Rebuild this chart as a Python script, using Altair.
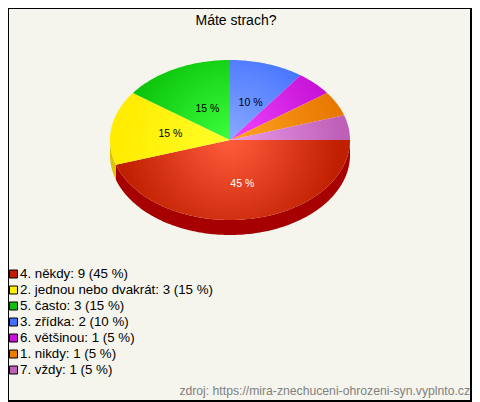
import math
import altair as alt
import pandas as pd

# ---- data
categories = ["4. někdy", "2. jednou nebo dvakrát", "5. často", "3. zřídka", "6. většinou", "1. nikdy", "7. vždy"]
counts = [9, 3, 3, 2, 1, 1, 1]
percents = [45, 15, 15, 10, 5, 5, 5]
title_text = "Máte strach?"
source_text = "zdroj: https://mira-znechuceni-ohrozeni-syn.vyplnto.cz"

# ---- style
W, H = 464, 394
BG = "#f5f5ed"
FONT = "Liberation Sans"
light = ["#ff5c3c", "#ffff2a", "#3cff3c", "#8aaaff", "#f044ff", "#ffa424", "#ea9cea"]
dark = ["#c02000", "#ffec00", "#08c008", "#3c6cff", "#c410d4", "#e87800", "#bf60b8"]
swatch = ["#c01a00", "#ffee00", "#10c010", "#4070ff", "#cc10dc", "#ec7c00", "#c060b8"]
side = ["#a60000", "#dcc400", "#08a008", "#3058d0", "#a008b0", "#c06000", "#a050a0"]
label_color = ["white", "black", "black", "black"]
label_k = [0.55, 0.52, 0.45, 0.5]

CX, CY, RX, RY, DEPTH = 222.0, 132.0, 120.0, 80.0, 15.0
xs = alt.Scale(domain=[-1, 1], range=[CX - RX, CX + RX])
ys = alt.Scale(domain=[-1, 1], range=[CY + RY, CY - RY])
X = alt.X("x:Q", scale=xs, axis=None)
Y = alt.Y("y:Q", scale=ys, axis=None)
depth_u = DEPTH / RY

# slice angles (clockwise from 12 o'clock), starting at 3 o'clock
total = sum(counts)
edges = [90.0]
for c in counts:
    edges.append(edges[-1] + 360.0 * c / total)


def arc(a0, a1):
    n = max(2, int(abs(a1 - a0)) + 1)
    out = []
    for i in range(n + 1):
        a = math.radians(a0 + (a1 - a0) * i / n)
        out.append((math.sin(a), math.cos(a)))
    return out


def poly(points, **kw):
    df = pd.DataFrame(points, columns=["x", "y"])
    df["i"] = range(len(df))
    return alt.Chart(df).mark_line(filled=True, strokeWidth=0, **kw).encode(
        x=X, y=Y, order=alt.Order("i:Q")
    )


def gradient(points, i):
    px = [p[0] * RX for p in points]
    py = [p[1] * RY for p in points]
    x0, x1, y0, y1 = min(px), max(px), min(py), max(py)
    s = max(x1 - x0, y1 - y0)
    u = 0.5 + (0 - (x0 + x1) / 2) / s
    v = 0.5 + ((y0 + y1) / 2) / s
    return alt.RadialGradient(
        gradient="radial", x1=u, y1=v, r1=0, x2=u, y2=v, r2=110.0 / s,
        stops=[alt.GradientStop(offset=0, color=light[i]), alt.GradientStop(offset=1, color=dark[i])],
    )


layers = []
# side wall, front half only
for i in range(len(counts)):
    a0, a1 = max(edges[i], 90.0), min(edges[i + 1], 270.0)
    if a1 > a0:
        top = arc(a0, a1)
        low = [(x, y - depth_u) for x, y in reversed(top)]
        layers.append(poly(top + low, fill=side[i]))
# top surface
for i in range(len(counts)):
    pts = [(0.0, 0.0)] + arc(edges[i], edges[i + 1]) + [(0.0, 0.0)]
    layers.append(poly(pts, fill=gradient(pts, i)))

# percentage labels
lab = []
for i, k in enumerate(label_k):
    m = math.radians((edges[i] + edges[i + 1]) / 2)
    lab.append({"x": math.sin(m) * k, "y": math.cos(m) * k, "t": f"{percents[i]} %", "c": label_color[i]})
layers.append(
    alt.Chart(pd.DataFrame(lab)).mark_text(font=FONT, fontSize=10.5, align="center", baseline="middle", dx=2, dy=1).encode(
        x=X, y=Y, text="t:N", color=alt.Color("c:N", scale=None)
    )
)

# legend rows
rows = pd.DataFrame({
    "row": list(range(len(categories))),
    "t": [f"{c}: {n} ({p} %)" for c, n, p in zip(categories, counts, percents)],
    "c": swatch,
})
row_y = alt.Y("ry:Q", scale=None, axis=None)
legend_base = alt.Chart(rows).transform_calculate(ry="266 + datum.row * 16")
layers.append(
    legend_base.mark_square(size=64, stroke="black", strokeWidth=1, opacity=1).encode(
        x=alt.value(5.5), y=row_y, fill=alt.Color("c:N", scale=None)
    )
)
layers.append(
    legend_base.mark_text(font=FONT, fontSize=13.3, align="left", baseline="middle", color="black").encode(
        x=alt.value(12), y=row_y, text="t:N"
    )
)

# title and source
layers.append(
    alt.Chart(pd.DataFrame({"t": [title_text]})).mark_text(font=FONT, fontSize=14, align="center", baseline="middle", color="black").encode(
        x=alt.value(228), y=alt.value(13), text="t:N"
    )
)
layers.append(
    alt.Chart(pd.DataFrame({"t": [source_text]})).mark_text(font=FONT, fontSize=12.2, align="right", baseline="middle", color="#808080").encode(
        x=alt.value(462), y=alt.value(383), text="t:N"
    )
)

# frame
one = pd.DataFrame({"v": [0]})
frame = [
    (0.5, 0.5, 0, H, 1), (0, W, 0.5, 0.5, 1),
    (W - 1, W - 1, 0, H, 2), (0, W, H - 1, H - 1, 2),
]
for x1, x2, y1, y2, sw in frame:
    layers.append(
        alt.Chart(one).mark_rule(color="black", strokeWidth=sw).encode(
            x=alt.value(x1), x2=alt.value(x2), y=alt.value(y1), y2=alt.value(y2)
        )
    )

chart = alt.layer(*layers).properties(
    width=W, height=H, background=BG, padding=0,
    autosize=alt.AutoSizeParams(type="none"),
).configure_view(stroke=None)

chart.save("out.html", embed_options={"renderer": "svg", "actions": False})
